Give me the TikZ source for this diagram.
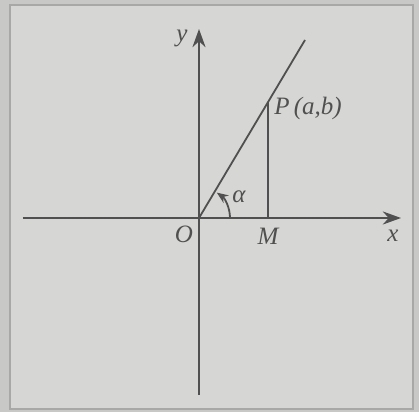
\documentclass[tikz,border=0pt]{standalone}
\usepackage{fontspec}
\setmainfont{Liberation Serif}
\usetikzlibrary{arrows.meta, calc}
\definecolor{pagegray}{RGB}{200,200,198}
\definecolor{boxgray}{RGB}{214,214,212}
\definecolor{edgegray}{RGB}{168,168,166}
\definecolor{inkgray}{RGB}{80,80,80}

\begin{document}
\begin{tikzpicture}[
    x=0.5pt, y=0.5pt,
    axis/.style={draw=inkgray, line width=0.9pt, -{Stealth[length=3.2mm, width=2.3mm]}},
    seg/.style={draw=inkgray, line width=0.9pt},
    lbl/.style={text=inkgray, font=\fontsize{12.5}{14}\selectfont\itshape, inner sep=1pt},
    >={Stealth[length=2mm, width=1.6mm]}
]
    % page and frame
    \fill[pagegray] (0,0) rectangle (419,412);
    \filldraw[fill=boxgray, draw=edgegray, line width=0.6pt] (10,3) rectangle (413,407);

    \coordinate (O) at (199,194);
    \coordinate (xl) at (23,194);
    \coordinate (xr) at (401,194);
    \coordinate (yb) at (199,17);
    \coordinate (yt) at (199,383);
    \coordinate (E) at (305,372);
    \coordinate (P) at ($(O)!0.651!(E)$);
    \coordinate (M) at (P |- O);
    \coordinate (A) at ($(O)+(31,0)$);

    \draw[axis] (xl) -- (xr);
    \draw[axis] (yb) -- (yt);
    \draw[seg] (O) -- (E);
    \draw[seg] (P) -- (M);
    \draw[seg, ->] (A) arc[start angle=0, end angle=55, radius=15.5pt];

    \node[lbl] (ylbl) at (182,374) {y};
    \node[lbl, anchor=west] (Plbl) at (272,304) {P\,(a,b)};
    \node[lbl] (alpha) at (239,215) {α};
    \node[lbl] (Olbl) at (184,178) {O};
    \node[lbl] (Mlbl) at (268,176) {M};
    \node[lbl] (xlbl) at (393,176) {x};
\end{tikzpicture}
\end{document}
